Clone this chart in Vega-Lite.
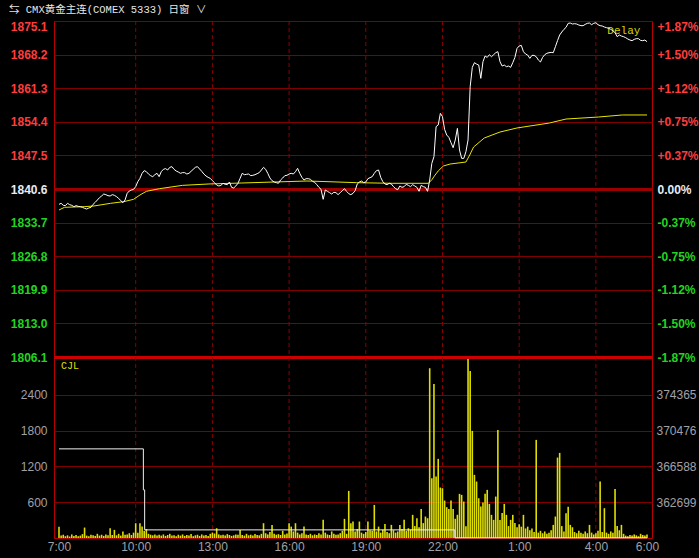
{
"$schema": "https://vega.github.io/schema/vega-lite/v6.json",
"width": 598, "height": 517,
"autosize": {"type": "none"},
"padding": {"left": 54, "top": 21, "right": 47, "bottom": 20},
"background": "#000000",
"config": {"view": {"stroke": "#b40000", "strokeWidth": 1}},
"title": {"text": "⇆  CMX黄金主连(COMEX 5333)    日窗 ∨", "anchor": "start", "frame": "group", "dx": -45, "offset": -5, "baseline": "bottom", "font": "Liberation Mono, Noto Sans CJK SC", "fontSize": 10.5, "fontWeight": "normal", "color": "#e6e6e6"},
"datasets": {
"pv": [
{"m":0,"p":1837.45,"v":190},{"m":5,"p":1837.66,"v":40},{"m":10,"p":1837.25,"v":55},{"m":15,"p":1837.18,"v":30},{"m":20,"p":1837.66,"v":45},{"m":25,"p":1837.38,"v":25},{"m":30,"p":1837.25,"v":60},{"m":35,"p":1836.97,"v":35},{"m":40,"p":1837.18,"v":50},{"m":45,"p":1837.04,"v":30},{"m":50,"p":1836.97,"v":40},{"m":55,"p":1836.84,"v":65},
{"m":60,"p":1836.63,"v":175},{"m":65,"p":1836.49,"v":40},{"m":70,"p":1836.70,"v":30},{"m":75,"p":1836.84,"v":55},{"m":80,"p":1837.45,"v":45},{"m":85,"p":1837.86,"v":35},{"m":90,"p":1838.34,"v":70},{"m":95,"p":1838.82,"v":40},{"m":100,"p":1839.16,"v":55},{"m":105,"p":1839.57,"v":35},{"m":110,"p":1839.44,"v":60},{"m":115,"p":1839.23,"v":45},
{"m":120,"p":1839.16,"v":164},{"m":125,"p":1839.44,"v":50},{"m":130,"p":1839.30,"v":136},{"m":135,"p":1839.03,"v":45},{"m":140,"p":1838.68,"v":70},{"m":145,"p":1838.20,"v":40},{"m":150,"p":1837.79,"v":110},{"m":155,"p":1838.34,"v":55},{"m":160,"p":1839.71,"v":60},{"m":165,"p":1840.19,"v":80},{"m":170,"p":1840.40,"v":50},{"m":175,"p":1840.53,"v":90},
{"m":180,"p":1841.08,"v":248},{"m":185,"p":1842.11,"v":90},{"m":190,"p":1842.79,"v":248},{"m":195,"p":1843.82,"v":191},{"m":200,"p":1844.37,"v":120},{"m":205,"p":1844.16,"v":150},{"m":210,"p":1843.68,"v":70},{"m":215,"p":1843.34,"v":55},{"m":220,"p":1843.13,"v":45},{"m":225,"p":1843.54,"v":60},{"m":230,"p":1843.82,"v":40},{"m":235,"p":1843.13,"v":55},
{"m":240,"p":1844.16,"v":40},{"m":245,"p":1844.64,"v":60},{"m":250,"p":1844.78,"v":35},{"m":255,"p":1844.50,"v":50},{"m":260,"p":1845.05,"v":70},{"m":265,"p":1845.19,"v":40},{"m":270,"p":1844.64,"v":45},{"m":275,"p":1844.30,"v":30},{"m":280,"p":1844.09,"v":55},{"m":285,"p":1843.82,"v":40},{"m":290,"p":1843.96,"v":60},{"m":295,"p":1843.96,"v":35},
{"m":300,"p":1843.68,"v":50},{"m":305,"p":1843.82,"v":40},{"m":310,"p":1844.23,"v":65},{"m":315,"p":1844.64,"v":30},{"m":320,"p":1845.05,"v":45},{"m":325,"p":1845.19,"v":55},{"m":330,"p":1844.71,"v":35},{"m":335,"p":1844.23,"v":60},{"m":340,"p":1843.68,"v":40},{"m":345,"p":1843.27,"v":50},{"m":350,"p":1842.99,"v":35},{"m":355,"p":1842.79,"v":70},
{"m":360,"p":1842.31,"v":90},{"m":365,"p":1841.90,"v":75},{"m":370,"p":1841.42,"v":164},{"m":375,"p":1841.22,"v":60},{"m":380,"p":1841.35,"v":45},{"m":385,"p":1841.77,"v":55},{"m":390,"p":1841.56,"v":40},{"m":395,"p":1841.49,"v":65},{"m":400,"p":1842.04,"v":50},{"m":405,"p":1840.94,"v":35},{"m":410,"p":1840.81,"v":45},{"m":415,"p":1841.22,"v":60},
{"m":420,"p":1841.77,"v":55},{"m":425,"p":1842.79,"v":136},{"m":430,"p":1843.82,"v":50},{"m":435,"p":1843.54,"v":40},{"m":440,"p":1843.61,"v":70},{"m":445,"p":1843.68,"v":45},{"m":450,"p":1843.34,"v":55},{"m":455,"p":1843.41,"v":40},{"m":460,"p":1843.54,"v":65},{"m":465,"p":1843.75,"v":50},{"m":470,"p":1843.96,"v":45},{"m":475,"p":1844.50,"v":70},
{"m":480,"p":1845.05,"v":248},{"m":485,"p":1844.64,"v":80},{"m":490,"p":1843.82,"v":60},{"m":495,"p":1842.86,"v":100},{"m":500,"p":1842.31,"v":220},{"m":505,"p":1842.04,"v":70},{"m":510,"p":1841.90,"v":55},{"m":515,"p":1841.77,"v":65},{"m":520,"p":1842.45,"v":50},{"m":525,"p":1842.86,"v":120},{"m":530,"p":1843.34,"v":60},{"m":535,"p":1843.41,"v":75},
{"m":540,"p":1843.68,"v":248},{"m":545,"p":1843.82,"v":191},{"m":550,"p":1843.68,"v":110},{"m":555,"p":1844.16,"v":248},{"m":560,"p":1844.85,"v":90},{"m":565,"p":1843.82,"v":60},{"m":570,"p":1843.00,"v":80},{"m":575,"p":1842.45,"v":191},{"m":580,"p":1842.72,"v":60},{"m":585,"p":1842.72,"v":50},{"m":590,"p":1842.59,"v":70},{"m":595,"p":1842.18,"v":45},
{"m":600,"p":1841.97,"v":60},{"m":605,"p":1841.49,"v":50},{"m":610,"p":1840.94,"v":80},{"m":615,"p":1840.53,"v":60},{"m":620,"p":1838.48,"v":304},{"m":625,"p":1840.40,"v":90},{"m":630,"p":1840.12,"v":60},{"m":635,"p":1839.85,"v":50},{"m":640,"p":1839.57,"v":110},{"m":645,"p":1839.92,"v":70},{"m":650,"p":1839.85,"v":55},{"m":655,"p":1839.44,"v":60},
{"m":660,"p":1839.85,"v":80},{"m":665,"p":1840.26,"v":120},{"m":670,"p":1840.67,"v":321},{"m":675,"p":1840.12,"v":70},{"m":680,"p":1839.64,"v":790},{"m":685,"p":1839.44,"v":248},{"m":690,"p":1839.71,"v":276},{"m":695,"p":1840.26,"v":110},{"m":700,"p":1841.63,"v":150},{"m":705,"p":1842.04,"v":276},{"m":710,"p":1842.24,"v":90},{"m":715,"p":1841.90,"v":70},
{"m":720,"p":1842.04,"v":100},{"m":725,"p":1842.72,"v":276},{"m":730,"p":1842.93,"v":130},{"m":735,"p":1843.13,"v":120},{"m":740,"p":1843.82,"v":555},{"m":745,"p":1844.37,"v":110},{"m":750,"p":1844.50,"v":191},{"m":755,"p":1843.00,"v":90},{"m":760,"p":1842.11,"v":140},{"m":765,"p":1841.63,"v":236},{"m":770,"p":1841.49,"v":100},{"m":775,"p":1841.77,"v":80},
{"m":780,"p":1841.63,"v":220},{"m":785,"p":1841.08,"v":130},{"m":790,"p":1840.67,"v":90},{"m":795,"p":1840.46,"v":110},{"m":800,"p":1841.22,"v":220},{"m":805,"p":1840.94,"v":150},{"m":810,"p":1841.08,"v":304},{"m":815,"p":1841.56,"v":120},{"m":820,"p":1841.35,"v":164},{"m":825,"p":1841.08,"v":140},{"m":830,"p":1841.49,"v":388},{"m":835,"p":1841.22,"v":200},
{"m":840,"p":1840.94,"v":332},{"m":845,"p":1840.12,"v":180},{"m":850,"p":1841.35,"v":488},{"m":855,"p":1841.08,"v":250},{"m":860,"p":1840.94,"v":360},{"m":865,"p":1840.12,"v":332},{"m":870,"p":1842.44,"v":2847},{"m":875,"p":1845.87,"v":1003},{"m":880,"p":1847.24,"v":2584},{"m":885,"p":1853.40,"v":1031},{"m":890,"p":1853.74,"v":1327},{"m":895,"p":1856.13,"v":846},
{"m":900,"p":1855.45,"v":835},{"m":905,"p":1852.85,"v":628},{"m":910,"p":1851.68,"v":517},{"m":915,"p":1851.21,"v":488},{"m":920,"p":1850.11,"v":628},{"m":925,"p":1849.08,"v":488},{"m":930,"p":1850.66,"v":322},{"m":935,"p":1853.05,"v":389},{"m":940,"p":1848.60,"v":740},{"m":945,"p":1846.89,"v":723},{"m":950,"p":1846.89,"v":611},{"m":955,"p":1848.26,"v":199},
{"m":960,"p":1850.66,"v":3003},{"m":965,"p":1861.61,"v":2802},{"m":970,"p":1865.58,"v":1796},{"m":975,"p":1866.54,"v":1059},{"m":980,"p":1866.26,"v":947},{"m":985,"p":1866.06,"v":667},{"m":990,"p":1863.32,"v":527},{"m":995,"p":1866.74,"v":595},{"m":1000,"p":1867.91,"v":740},{"m":1005,"p":1867.63,"v":807},{"m":1010,"p":1868.18,"v":572},{"m":1015,"p":1867.77,"v":388},
{"m":1020,"p":1868.18,"v":304},{"m":1025,"p":1868.59,"v":695},{"m":1030,"p":1868.80,"v":1813},{"m":1035,"p":1866.74,"v":300},{"m":1040,"p":1865.85,"v":420},{"m":1045,"p":1866.06,"v":572},{"m":1050,"p":1865.72,"v":388},{"m":1055,"p":1865.85,"v":200},{"m":1060,"p":1865.58,"v":304},{"m":1065,"p":1866.54,"v":388},{"m":1070,"p":1867.63,"v":250},{"m":1075,"p":1869.48,"v":180},
{"m":1080,"p":1869.96,"v":230},{"m":1085,"p":1870.10,"v":190},{"m":1090,"p":1868.80,"v":388},{"m":1095,"p":1868.32,"v":160},{"m":1100,"p":1868.11,"v":190},{"m":1105,"p":1867.43,"v":130},{"m":1110,"p":1868.04,"v":160},{"m":1115,"p":1868.04,"v":100},{"m":1120,"p":1867.77,"v":1645},{"m":1125,"p":1867.09,"v":90},{"m":1130,"p":1866.68,"v":120},{"m":1135,"p":1867.63,"v":80},
{"m":1140,"p":1868.18,"v":110},{"m":1145,"p":1868.46,"v":70},{"m":1150,"p":1868.59,"v":90},{"m":1155,"p":1868.66,"v":130},{"m":1160,"p":1868.59,"v":220},{"m":1165,"p":1869.82,"v":360},{"m":1170,"p":1871.06,"v":1349},{"m":1175,"p":1872.22,"v":1427},{"m":1180,"p":1872.84,"v":200},{"m":1185,"p":1873.38,"v":110},{"m":1190,"p":1873.79,"v":416},{"m":1195,"p":1874.62,"v":522},
{"m":1200,"p":1874.68,"v":220},{"m":1205,"p":1874.48,"v":180},{"m":1210,"p":1874.55,"v":100},{"m":1215,"p":1874.48,"v":80},{"m":1220,"p":1874.27,"v":120},{"m":1225,"p":1874.14,"v":90},{"m":1230,"p":1874.14,"v":70},{"m":1235,"p":1874.41,"v":110},{"m":1240,"p":1874.62,"v":80},{"m":1245,"p":1874.68,"v":220},{"m":1250,"p":1874.34,"v":90},{"m":1255,"p":1874.62,"v":60},
{"m":1260,"p":1874.75,"v":80},{"m":1265,"p":1874.34,"v":120},{"m":1270,"p":1874.14,"v":946},{"m":1275,"p":1874.07,"v":100},{"m":1280,"p":1873.86,"v":500},{"m":1285,"p":1873.73,"v":90},{"m":1290,"p":1873.59,"v":70},{"m":1295,"p":1873.38,"v":110},{"m":1300,"p":1873.11,"v":90},{"m":1305,"p":1872.70,"v":823},{"m":1310,"p":1871.88,"v":200},{"m":1315,"p":1872.22,"v":130},
{"m":1320,"p":1872.01,"v":220},{"m":1325,"p":1871.88,"v":70},{"m":1330,"p":1871.67,"v":40},{"m":1335,"p":1871.40,"v":30},{"m":1340,"p":1871.19,"v":50},{"m":1345,"p":1871.06,"v":40},{"m":1350,"p":1871.33,"v":60},{"m":1355,"p":1871.47,"v":45},{"m":1360,"p":1871.47,"v":30},{"m":1365,"p":1871.12,"v":70},{"m":1370,"p":1871.06,"v":50},{"m":1375,"p":1871.19,"v":40},{"m":1380,"p":1870.85,"v":60}
],
"avg": [
{"m":0,"a":1836.29},{"m":13,"a":1836.84},{"m":59,"a":1836.97},{"m":82,"a":1837.11},{"m":121,"a":1837.66},{"m":152,"a":1838.00},{"m":175,"a":1838.48},{"m":190,"a":1839.37},{"m":205,"a":1840.12},{"m":236,"a":1840.67},{"m":290,"a":1841.35},{"m":352,"a":1841.63},{"m":429,"a":1841.83},{"m":505,"a":1842.04},{"m":582,"a":1842.24},{"m":629,"a":1842.11},{"m":698,"a":1841.90},{"m":782,"a":1841.77},{"m":867,"a":1841.77},{"m":875,"a":1842.5},{"m":881,"a":1843.27},{"m":890,"a":1844.30},{"m":902,"a":1845.32},{"m":918,"a":1845.73},{"m":955,"a":1846.14},{"m":964,"a":1847.58},{"m":973,"a":1849.22},{"m":998,"a":1851.07},{"m":1035,"a":1852.30},{"m":1075,"a":1853.13},{"m":1151,"a":1854.15},{"m":1190,"a":1854.97},{"m":1266,"a":1855.38},{"m":1322,"a":1855.80},{"m":1380,"a":1855.80}
],
"oi": [
{"m":0,"o":368499},{"m":198,"o":364040},{"m":201,"o":359692},{"m":929,"o":358830},{"m":1380,"o":358830}
],
"hours": [{"m":180},{"m":360},{"m":540},{"m":720},{"m":900},{"m":1080},{"m":1260}]
},
"resolve": {"scale": {"y": "independent"}, "axis": {"y": "independent"}},
"layer": [
  {"data": {"name": "hours"},
   "mark": {"type": "rule", "color": "#8a0000", "strokeWidth": 1, "strokeDash": [4, 3]},
   "encoding": {
    "x": {"field": "m", "type": "quantitative", "scale": {"domain": [0, 1380], "nice": false, "zero": false},
     "axis": {"orient": "bottom", "title": null, "values": [0,180,360,540,720,900,1080,1260,1380], "labelExpr": "floor((datum.value/60+7)%24) + ':00'", "grid": false, "domain": false, "ticks": false, "labelColor": "#a0a0a8", "labelFont": "Liberation Sans", "labelFontSize": 12, "labelPadding": 3, "labelFlush": false, "labelOverlap": false, "labelBound": false}}}},
  {"data": {"name": "pv"},
   "mark": {"type": "bar", "width": 1.6, "color": "#dede00"},
   "encoding": {
    "x": {"field": "m", "type": "quantitative", "scale": {"domain": [0, 1380], "nice": false, "zero": false},
     "axis": {"orient": "bottom", "title": null, "values": [0,180,360,540,720,900,1080,1260,1380], "labelExpr": "floor((datum.value/60+7)%24) + ':00'", "grid": false, "domain": false, "ticks": false, "labelColor": "#a0a0a8", "labelFont": "Liberation Sans", "labelFontSize": 12, "labelPadding": 3, "labelFlush": false, "labelOverlap": false, "labelBound": false}},
    "y": {"field": "v", "type": "quantitative", "scale": {"domain": [0, 3035], "range": [517, 336], "nice": false, "zero": true},
    "axis": {"orient": "left", "title": null, "values": [600,1200,1800,2400], "format": "d", "domain": false, "ticks": false, "labelColor": "#a0a0a8", "labelFont": "Liberation Sans", "labelFontSize": 12, "labelPadding": 7, "grid": true, "gridColor": "#800000", "gridWidth": 1, "labelOverlap": false, "labelBound": false, "labelFlush": false}}}},
  {"data": {"values": [{}]},
   "mark": {"type": "text", "align": "left", "baseline": "middle", "dx": 2, "font": "Liberation Mono", "fontSize": 10, "color": "#e0e000"},
   "encoding": {
    "x": {"datum": 0, "type": "quantitative", "scale": {"domain": [0, 1380], "nice": false, "zero": false},
     "axis": {"orient": "bottom", "title": null, "values": [0,180,360,540,720,900,1080,1260,1380], "labelExpr": "floor((datum.value/60+7)%24) + ':00'", "grid": false, "domain": false, "ticks": false, "labelColor": "#a0a0a8", "labelFont": "Liberation Sans", "labelFontSize": 12, "labelPadding": 3, "labelFlush": false, "labelOverlap": false, "labelBound": false}},
    "y": {"datum": 2884, "type": "quantitative", "scale": {"domain": [0, 3035], "range": [517, 336], "nice": false, "zero": true}, "axis": null}, "text": {"value": "CJL"}}},
  {"data": {"name": "oi"},
   "mark": {"type": "line", "interpolate": "step-after", "color": "#f0f0f0", "strokeWidth": 1},
   "encoding": {
    "x": {"field": "m", "type": "quantitative", "scale": {"domain": [0, 1380], "nice": false, "zero": false},
     "axis": {"orient": "bottom", "title": null, "values": [0,180,360,540,720,900,1080,1260,1380], "labelExpr": "floor((datum.value/60+7)%24) + ':00'", "grid": false, "domain": false, "ticks": false, "labelColor": "#a0a0a8", "labelFont": "Liberation Sans", "labelFontSize": 12, "labelPadding": 3, "labelFlush": false, "labelOverlap": false, "labelBound": false}},
    "y": {"field": "o", "type": "quantitative", "scale": {"domain": [358810.33, 378484.3], "range": [517, 336], "nice": false, "zero": false},
    "axis": {"orient": "right", "title": null, "values": [362699,366588,370476,374365], "format": "d", "domain": false, "ticks": false, "labelColor": "#a0a0a8", "labelFont": "Liberation Sans", "labelFontSize": 12, "labelPadding": 4, "grid": false, "labelOverlap": false, "labelBound": false, "labelFlush": false}}}},
  {"data": {"values": [{}]},
   "mark": {"type": "text", "align": "left", "baseline": "middle", "font": "Liberation Mono", "fontSize": 11, "color": "#d4d400"},
   "encoding": {
    "x": {"datum": 1287, "type": "quantitative", "scale": {"domain": [0, 1380], "nice": false, "zero": false},
     "axis": {"orient": "bottom", "title": null, "values": [0,180,360,540,720,900,1080,1260,1380], "labelExpr": "floor((datum.value/60+7)%24) + ':00'", "grid": false, "domain": false, "ticks": false, "labelColor": "#a0a0a8", "labelFont": "Liberation Sans", "labelFontSize": 12, "labelPadding": 3, "labelFlush": false, "labelOverlap": false, "labelBound": false}},
    "y": {"datum": 1873.05, "type": "quantitative", "scale": {"domain": [1806.1, 1875.1], "range": [336, 0], "nice": false, "zero": false}, "axis": null}, "text": {"value": "Delay"}}},
  {"data": {"name": "avg"},
   "mark": {"type": "line", "color": "#e6e600", "strokeWidth": 1},
   "encoding": {
    "x": {"field": "m", "type": "quantitative", "scale": {"domain": [0, 1380], "nice": false, "zero": false},
     "axis": {"orient": "bottom", "title": null, "values": [0,180,360,540,720,900,1080,1260,1380], "labelExpr": "floor((datum.value/60+7)%24) + ':00'", "grid": false, "domain": false, "ticks": false, "labelColor": "#a0a0a8", "labelFont": "Liberation Sans", "labelFontSize": 12, "labelPadding": 3, "labelFlush": false, "labelOverlap": false, "labelBound": false}},
    "y": {"field": "a", "type": "quantitative", "scale": {"domain": [1806.1, 1875.1], "range": [336, 0], "nice": false, "zero": false},
    "axis": {"orient": "right", "title": null, "values": [1806.1,1813,1819.9,1826.8,1833.7,1840.6,1847.5,1854.4,1861.3,1868.2,1875.1],
     "labelExpr": "(datum.value > 1840.65 ? '+' : datum.value < 1840.55 ? '-' : '') + format(abs(datum.value-1840.6)/1840.6*100, '.2f') + '%'",
     "domain": false, "ticks": false, "grid": false, "labelFont": "Liberation Sans", "labelFontSize": 12, "labelFontWeight": "bold", "labelPadding": 5,
     "labelColor": {"condition": [{"test": "datum.value > 1840.7", "value": "#ff3c3c"}, {"test": "datum.value < 1840.5", "value": "#22d422"}], "value": "#e4ecf8"},
     "labelBaseline": {"condition": {"test": "datum.value > 1875", "value": "top"}, "value": "middle"},
     "labelOverlap": false, "labelBound": false, "labelFlush": false}}}},
  {"data": {"name": "pv"},
   "mark": {"type": "line", "color": "#ffffff", "strokeWidth": 1},
   "encoding": {
    "x": {"field": "m", "type": "quantitative", "scale": {"domain": [0, 1380], "nice": false, "zero": false},
     "axis": {"orient": "bottom", "title": null, "values": [0,180,360,540,720,900,1080,1260,1380], "labelExpr": "floor((datum.value/60+7)%24) + ':00'", "grid": false, "domain": false, "ticks": false, "labelColor": "#a0a0a8", "labelFont": "Liberation Sans", "labelFontSize": 12, "labelPadding": 3, "labelFlush": false, "labelOverlap": false, "labelBound": false}},
    "y": {"field": "p", "type": "quantitative", "scale": {"domain": [1806.1, 1875.1], "range": [336, 0], "nice": false, "zero": false},
    "axis": {"orient": "left", "title": null, "values": [1806.1,1813,1819.9,1826.8,1833.7,1840.6,1847.5,1854.4,1861.3,1868.2,1875.1], "format": ".1f",
     "domain": false, "ticks": false, "labelFont": "Liberation Sans", "labelFontSize": 12, "labelFontWeight": "bold", "labelPadding": 7,
     "labelColor": {"condition": [{"test": "datum.value > 1840.7", "value": "#ff3c3c"}, {"test": "datum.value < 1840.5", "value": "#22d422"}], "value": "#e4ecf8"},
     "labelBaseline": {"condition": {"test": "datum.value > 1875", "value": "top"}, "value": "middle"},
     "grid": true,
     "gridColor": {"condition": [{"test": "datum.value < 1806.2", "value": "#cc0000"}, {"test": "abs(datum.value-1840.6) < 0.01", "value": "#9a0000"}], "value": "#800000"},
     "gridWidth": {"condition": {"test": "datum.value < 1806.2 || abs(datum.value-1840.6) < 0.01", "value": 3}, "value": 1},
     "labelOverlap": false, "labelBound": false, "labelFlush": false}}}}
]
}
